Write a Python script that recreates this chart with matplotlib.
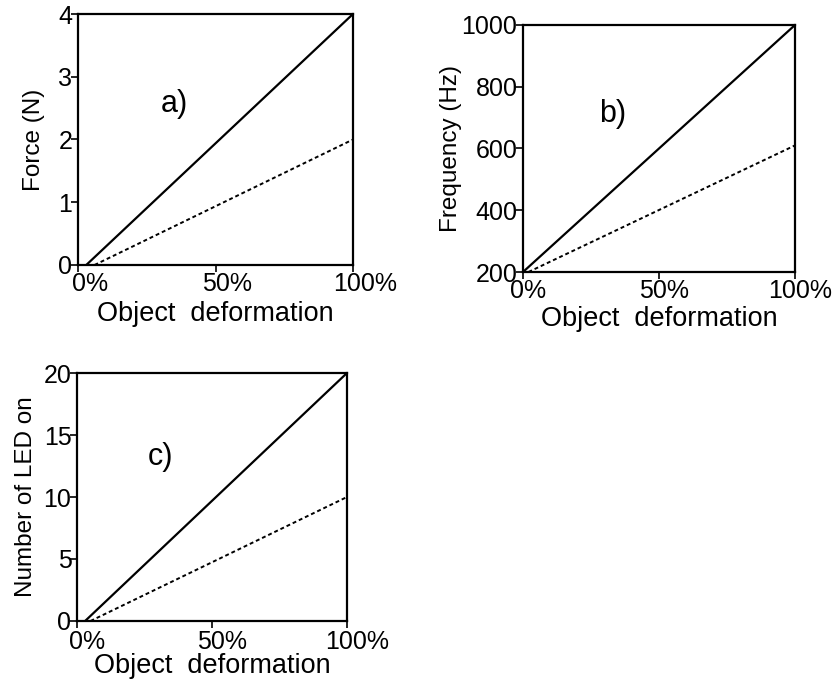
import matplotlib
matplotlib.use("Agg")
import matplotlib.pyplot as plt
import matplotlib.transforms as mtransforms

plt.rcParams["font.family"] = ["Liberation Sans", "DejaVu Sans"]

# x in percent of object deformation
x_ticks = [0, 50, 100]
x_ticklabels = ["0%", "50%", "100%"]

# a) force
force_solid_x = [3, 100]
force_solid_y = [0, 4]
force_dot_x = [6, 100]
force_dot_y = [0, 2]
force_ticks = [0, 1, 2, 3, 4]

# b) frequency
freq_solid_x = [0, 100]
freq_solid_y = [200, 1000]
freq_dot_x = [2, 100]
freq_dot_y = [200, 610]
freq_ticks = [200, 400, 600, 800, 1000]

# c) LEDs
led_solid_x = [3, 100]
led_solid_y = [0, 20]
led_dot_x = [5, 100]
led_dot_y = [0, 10]
led_ticks = [0, 5, 10, 15, 20]

fig = plt.figure(figsize=(8.36, 6.83), dpi=100)


def panel(rect, sx, sy, dx, dy, yticks, ylabel, tag, tagpos, xshift, ypad, xpad, xtpad):
    ax = fig.add_axes(rect)
    ax.plot(sx, sy, color="black", lw=1.6)
    ax.plot(dx, dy, color="black", lw=1.4, ls=(0, (2, 1.5)))
    ax.set_xlim(0, 100)
    ax.set_ylim(yticks[0], yticks[-1])
    ax.set_xticks(x_ticks)
    ax.set_xticklabels(x_ticklabels)
    ax.set_yticks(yticks)
    ax.tick_params(direction="out", length=5, width=1.2, labelsize=18)
    ax.tick_params(axis="x", pad=xtpad)
    ax.tick_params(axis="y", pad=-1)
    # x labels sit a bit to the right of their ticks
    off = mtransforms.ScaledTranslation(xshift / 100, 0, fig.dpi_scale_trans)
    for lab in ax.get_xticklabels():
        lab.set_transform(lab.get_transform() + off)
    for s in ax.spines.values():
        s.set_linewidth(1.6)
    ax.set_xlabel("Object  deformation", fontsize=19.5, labelpad=xpad)
    ax.set_ylabel(ylabel, fontsize=17.5, labelpad=ypad)
    ax.text(tagpos[0], tagpos[1], tag, transform=ax.transAxes, fontsize=22,
            ha="center", va="center")
    return ax


panel([78 / 836, 1 - 265 / 683, 275 / 836, 251 / 683],
      force_solid_x, force_solid_y, force_dot_x, force_dot_y,
      force_ticks, "Force (N)", "a)", (0.35, 0.64), 12, 10, 4, 0)
panel([523 / 836, 1 - 272 / 683, 272 / 836, 247 / 683],
      freq_solid_x, freq_solid_y, freq_dot_x, freq_dot_y,
      freq_ticks, "Frequency (Hz)", "b)", (0.33, 0.64), 5, 0, 2, 0)
panel([77 / 836, 1 - 621 / 683, 270 / 836, 248 / 683],
      led_solid_x, led_solid_y, led_dot_x, led_dot_y,
      led_ticks, "Number of LED on", "c)", (0.31, 0.66), 10, 5, -1, 1.5)

fig.savefig("out.png", dpi=100)
